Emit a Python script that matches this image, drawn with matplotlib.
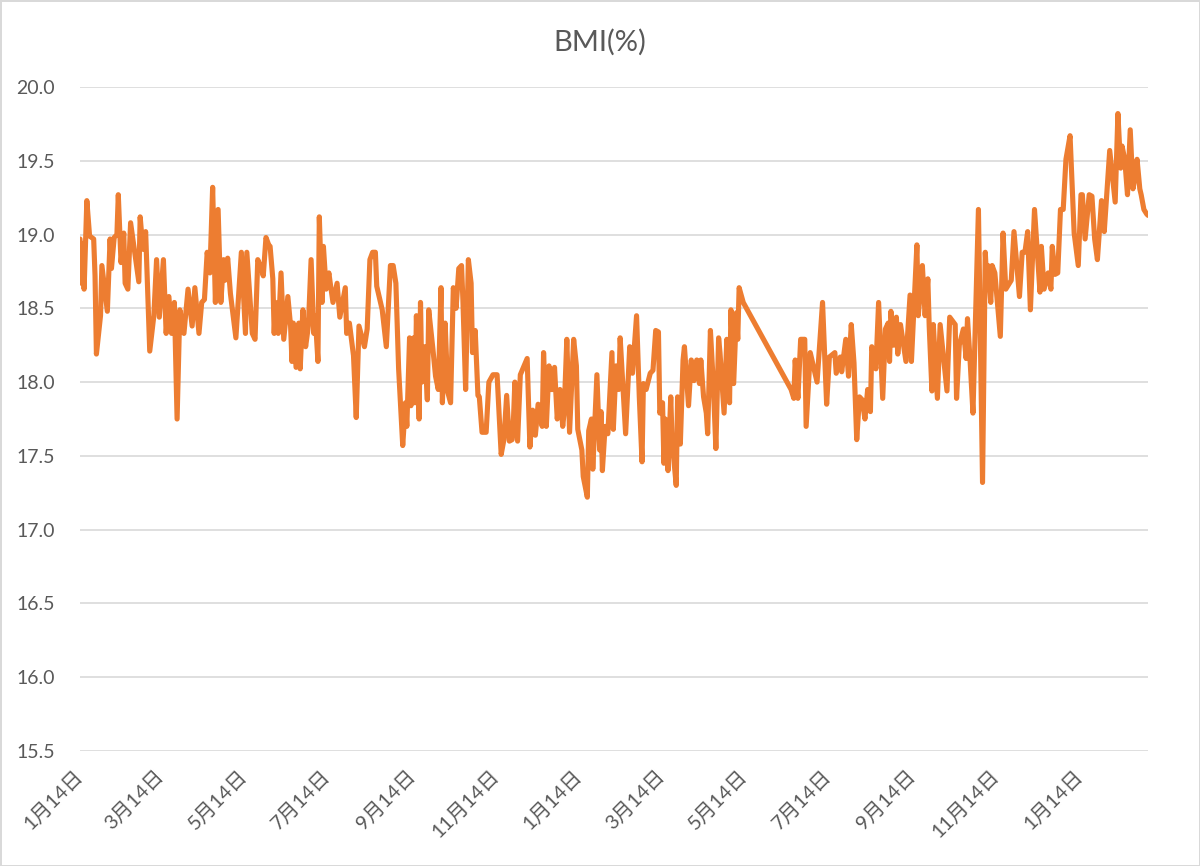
import matplotlib
matplotlib.use("Agg")
import matplotlib.pyplot as plt
import matplotlib.dates as mdates
import pandas as pd

# days counted from the first measurement (1月14日)
start_date = "2019-01-14"
days = [
    0, 1, 2, 3, 5, 7, 10, 11, 12, 15, 16, 20, 22, 23, 25, 27, 28, 30, 32, 33,
    35, 37, 40, 43, 44, 46, 48, 51, 54, 56, 58, 61, 63, 65, 67, 69, 71, 73, 76, 79,
    82, 84, 87, 89, 91, 93, 95, 97, 99, 101, 103, 105, 106, 108, 110, 114, 118, 121, 122, 126,
    128, 130, 133, 134, 136, 138, 139, 141, 142, 143, 145, 147, 149, 152, 154, 155, 156, 158, 160, 161,
    163, 165, 167, 169, 171, 172, 174, 175, 177, 178, 180, 182, 183, 185, 188, 190, 194, 195, 197, 200,
    202, 204, 208, 210, 212, 214, 216, 217, 221, 224, 227, 229, 231, 233, 236, 238, 239, 241, 242, 244,
    245, 246, 248, 249, 250, 252, 254, 255, 258, 260, 262, 264, 265, 267, 269, 271, 273, 275, 277, 279,
    280, 282, 284, 286, 287, 289, 291, 292, 294, 297, 299, 302, 305, 308, 310, 312, 314, 316, 317, 318,
    320, 322, 327, 329, 331, 333, 335, 338, 339, 341, 343, 344, 346, 347, 349, 351, 353, 354, 356, 358,
    361, 363, 364, 367, 368, 371, 372, 374, 375, 378, 380, 381, 382, 384, 386, 389, 390, 392, 394, 395,
    399, 402, 404, 407, 409, 411, 412, 414, 417, 419, 421, 423, 424, 426, 427, 428, 430, 432, 433, 436,
    437, 439, 441, 442, 445, 447, 449, 451, 453, 454, 456, 458, 459, 461, 463, 465, 467, 468, 471, 473,
    475, 476, 478, 480, 481, 482, 485,
    520, 522, 523, 525, 527, 530, 531, 534, 539, 543, 546, 548, 552, 553, 556, 557, 560, 562, 564, 566,
    568, 570, 572, 574, 576, 578, 579, 582, 584, 587, 589, 591, 592, 593, 595, 597, 598, 600, 604, 607,
    608, 612, 613, 616, 618, 620, 621, 623, 624, 627, 629, 634, 636, 640, 641, 643, 646, 648, 649, 651,
    653, 657, 660, 662, 663, 664, 666, 667, 669, 673, 675, 677, 681, 683, 687, 689, 691, 693, 695, 698,
    702, 703, 705, 708, 710, 711, 713, 715, 717, 719, 721, 724, 727, 730, 732, 733, 735, 738, 740, 742,
    744, 747, 749, 753, 757, 759, 761, 762, 764, 766, 768, 770, 771, 773, 775, 776, 778, 780, 781,
]
bmi = [
    18.97, 18.67, 18.94, 18.63, 19.23, 18.99, 18.97, 18.72, 18.19, 18.45, 18.79, 18.48, 18.97, 18.77, 18.98, 19.00, 19.27, 18.81, 19.01, 18.67,
    18.63, 19.08, 18.88, 18.68, 19.12, 18.90, 19.02, 18.21, 18.45, 18.83, 18.44, 18.83, 18.33, 18.58, 18.33, 18.54, 17.75, 18.49, 18.33, 18.63,
    18.38, 18.64, 18.33, 18.54, 18.56, 18.88, 18.74, 19.32, 18.54, 19.17, 18.54, 18.83, 18.69, 18.84, 18.60, 18.30, 18.88, 18.33, 18.88, 18.33,
    18.29, 18.83, 18.76, 18.72, 18.98, 18.93, 18.92, 18.70, 18.33, 18.54, 18.33, 18.74, 18.29, 18.58, 18.38, 18.14, 18.40, 18.10, 18.40, 18.09,
    18.49, 18.24, 18.38, 18.83, 18.33, 18.45, 18.14, 19.12, 18.54, 18.92, 18.63, 18.74, 18.67, 18.54, 18.67, 18.44, 18.64, 18.33, 18.40, 18.18,
    17.76, 18.38, 18.24, 18.36, 18.83, 18.88, 18.88, 18.65, 18.49, 18.24, 18.79, 18.79, 18.67, 18.09, 17.57, 17.86, 17.70, 18.30, 17.84, 18.30,
    17.86, 18.45, 17.75, 18.54, 18.00, 18.24, 17.88, 18.49, 18.23, 18.04, 17.95, 18.64, 17.86, 18.40, 17.93, 17.86, 18.64, 18.50, 18.77, 18.79,
    18.56, 17.95, 18.83, 18.67, 18.20, 18.35, 17.91, 17.90, 17.66, 17.66, 18.00, 18.05, 18.05, 17.51, 17.61, 17.91, 17.60, 17.61, 17.75, 18.00,
    17.60, 18.05, 18.16, 17.56, 17.81, 17.64, 17.85, 17.70, 18.20, 17.70, 18.11, 17.95, 17.95, 18.10, 17.75, 17.95, 17.70, 17.79, 18.29, 17.66,
    18.29, 18.11, 17.68, 17.54, 17.36, 17.22, 17.67, 17.75, 17.41, 18.05, 17.54, 17.80, 17.40, 17.70, 17.65, 18.20, 17.68, 18.11, 17.95, 18.30,
    17.65, 18.24, 18.06, 18.45, 17.90, 17.46, 17.99, 17.95, 18.06, 18.08, 18.35, 18.34, 17.79, 17.86, 17.45, 17.75, 17.40, 17.90, 17.60, 17.30,
    17.90, 17.58, 18.15, 18.24, 17.84, 18.15, 18.01, 18.15, 17.99, 18.15, 17.90, 17.79, 17.65, 18.35, 18.01, 17.55, 18.30, 18.20, 17.79, 18.29,
    17.86, 18.49, 17.99, 18.47, 18.29, 18.64, 18.54,
    17.95, 17.89, 18.15, 17.89, 18.29, 18.29, 17.70, 18.20, 18.00, 18.54, 17.85, 18.17, 18.20, 18.06, 18.17, 18.07, 18.29, 18.04, 18.39, 18.13,
    17.61, 17.90, 17.88, 17.75, 17.95, 17.80, 18.24, 18.09, 18.54, 17.89, 18.36, 18.40, 18.14, 18.48, 18.25, 18.44, 18.19, 18.39, 18.14, 18.59,
    18.14, 18.93, 18.45, 18.79, 18.45, 18.70, 18.38, 17.94, 18.39, 17.89, 18.39, 17.94, 18.44, 18.39, 17.89, 18.25, 18.36, 18.16, 18.43, 18.13,
    17.79, 19.17, 17.32, 18.88, 18.70, 18.79, 18.54, 18.79, 18.74, 18.31, 19.01, 18.63, 18.69, 19.02, 18.58, 18.88, 18.88, 19.02, 18.49, 19.17,
    18.61, 18.92, 18.63, 18.74, 18.63, 18.92, 18.73, 18.74, 19.17, 19.17, 19.51, 19.67, 19.01, 18.79, 19.27, 19.27, 18.97, 19.27, 19.26, 18.97,
    18.83, 19.23, 19.02, 19.57, 19.22, 19.82, 19.45, 19.60, 19.51, 19.27, 19.71, 19.31, 19.36, 19.51, 19.31, 19.27, 19.17, 19.14, 19.13,
]
y_ticks = [15.5, 16.0, 16.5, 17.0, 17.5, 18.0, 18.5, 19.0, 19.5, 20.0]

dates = pd.Timestamp(start_date) + pd.to_timedelta(days, unit="D")

text_font = ["Lato", "Noto Sans CJK JP", "DejaVu Sans"]
plt.rcParams["font.family"] = text_font

fig = plt.figure(figsize=(12, 8.66), dpi=100)
fig.patch.set_edgecolor("#d9d9d9")
fig.patch.set_linewidth(2)
ax = fig.add_axes([80 / 1200, 115 / 866, 1068 / 1200, 664 / 866])

ax.plot(dates, bmi, color="#ed7d31", linewidth=3.7,
        solid_joinstyle="round", solid_capstyle="round")

ax.set_ylim(15.5, 20.0)
ax.set_yticks(y_ticks)
ax.set_yticklabels([f"{v:.1f}" for v in y_ticks])
ax.set_xlim(dates[0], dates[-1])

ax.xaxis.set_major_locator(mdates.MonthLocator(bymonth=[1, 3, 5, 7, 9, 11], bymonthday=14))
ax.xaxis.set_major_formatter(plt.FuncFormatter(
    lambda v, pos: f"{mdates.num2date(v).month}月{mdates.num2date(v).day}日"))

ax.grid(axis="y", color="#d9d9d9", linewidth=1.2)
ax.set_axisbelow(True)
for side in ax.spines:
    ax.spines[side].set_visible(False)
ax.tick_params(axis="both", length=0, colors="#595959", labelsize=14)
ax.tick_params(axis="y", pad=18)
ax.tick_params(axis="x", pad=16, labelsize=14.5)
for lab in ax.get_xticklabels():
    lab.set_rotation(45)
    lab.set_ha("right")
    lab.set_va("center")
    lab.set_rotation_mode("anchor")

fig.text(0.5, 1 - 42 / 866, "BMI(%)", ha="center", va="center",
         fontsize=21, color="#595959")

fig.savefig("out.png", dpi=100)
